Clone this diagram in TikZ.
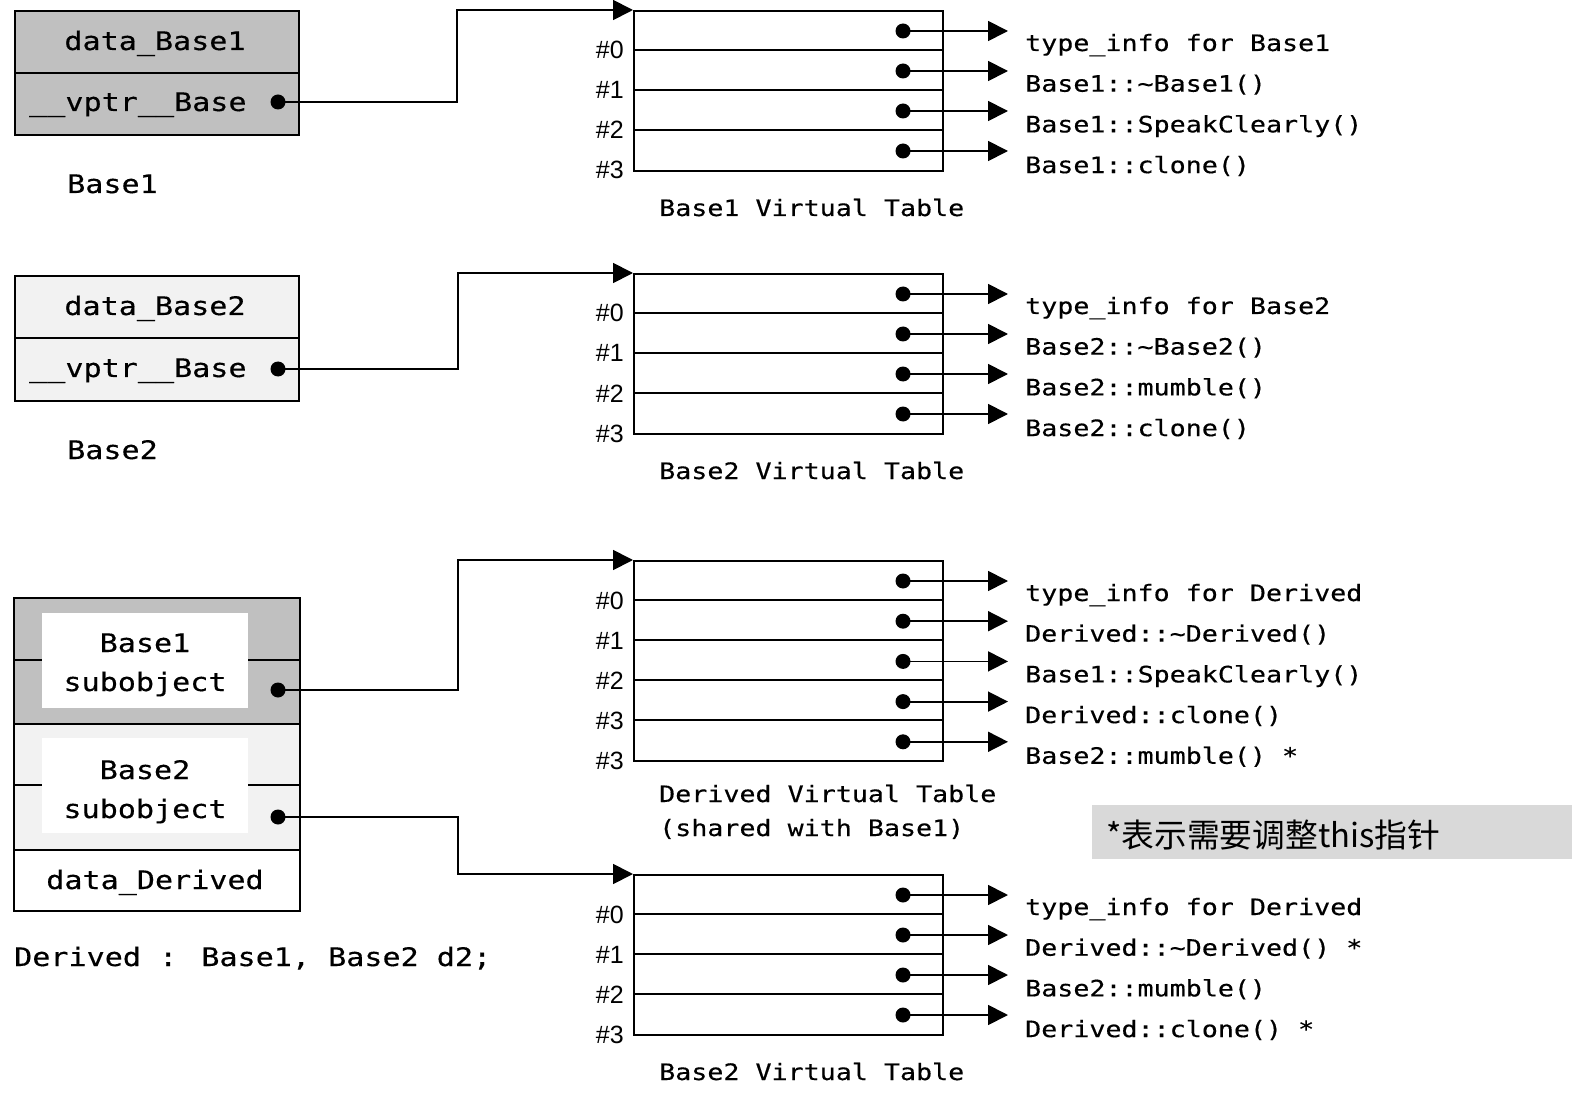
\documentclass[tikz,border=0pt]{standalone}
\usepackage{fontspec}
\setsansfont{Liberation Sans}
\newfontfamily\monof[FakeStretch=1.18,FakeBold=0.4]{DejaVu Sans Mono}
\newfontfamily\cjk{Noto Sans CJK SC}
\usetikzlibrary{arrows.meta}
\newcommand\bigmono{\monof\fontsize{25.5}{40}\selectfont}
\newcommand\smallmono{\monof\fontsize{22.6}{35}\selectfont}
\definecolor{gA}{RGB}{192,192,192}
\definecolor{gB}{RGB}{242,242,242}
\definecolor{gC}{RGB}{217,217,217}
\tikzset{
  cell/.style={draw=black, line width=2pt, anchor=north west, inner sep=0, minimum width=284pt},
  btext/.style={font=\bigmono, inner sep=0, anchor=base},
  btextw/.style={font=\bigmono, inner sep=0, anchor=base west},
  stext/.style={font=\smallmono, inner sep=0, anchor=base west},
  lab/.style={font=\sffamily\fontsize{25}{30}\selectfont, inner sep=0, anchor=base east},
  vt/.style={draw=black, line width=2pt, anchor=north west, inner sep=0, minimum width=309pt},
  rowline/.style={line width=2pt},
  dot/.style={circle, fill=black, inner sep=0, minimum size=15pt},
  conn/.style={line width=1.8pt, -{Triangle[length=20pt,width=20pt]}},
  wbox/.style={fill=white, inner sep=0, anchor=north west, minimum width=206pt, minimum height=95pt}
}
\begin{document}
\begin{tikzpicture}[x=1pt,y=-1pt]
\useasboundingbox (0,0) rectangle (1572,1099);

% ---------- Base1 object ----------
\node[cell, fill=gA, minimum height=62pt] (b1a) at (14,10) {};
\node[cell, fill=gA, minimum height=62pt] (b1b) at (14,72) {};
\node[btext] (t1a) at (155,50) {data\_Base1};
\node[btextw] (t1b) at (29,111) {\_\_vptr\_\_Base};
\node[dot] (d1) at (278,102) {};
\node[btextw] (n1) at (67,193) {Base1};

% ---------- Base2 object ----------
\node[cell, fill=gB, minimum height=62pt] (b2a) at (14,275) {};
\node[cell, fill=gB, minimum height=63pt] (b2b) at (14,337) {};
\node[btext] (t2a) at (155,315) {data\_Base2};
\node[btextw] (t2b) at (29,377) {\_\_vptr\_\_Base};
\node[dot] (d2) at (278,369) {};
\node[btextw] (n2) at (67,459) {Base2};

% ---------- Derived object ----------
\node[cell, draw=none, fill=gA, minimum height=124pt] (b3a) at (14,598) {};
\node[cell, draw=none, fill=gB, minimum height=126pt] (b3b) at (14,722) {};
\node[cell, draw=none, fill=white, minimum height=61pt] (b3c) at (14,848) {};
\draw[rowline] (b3a.west |- 0,660) -- (b3a.east |- 0,660);
\draw[rowline] (b3b.west |- 0,785) -- (b3b.east |- 0,785);
\draw[rowline] (b3a.south west) -- (b3a.south east);
\draw[rowline] (b3b.south west) -- (b3b.south east);
\draw[rowline] (b3a.north west) rectangle (b3c.south east);
\node[wbox] (w1) at (42,613) {};
\node[wbox] (w2) at (42,738) {};
\node[btext] (s1a) at (145,652) {Base1};
\node[btext] (s1b) at (145,691) {subobject};
\node[btext] (s2a) at (145,779) {Base2};
\node[btext] (s2b) at (145,818) {subobject};
\node[btext] (t3c) at (155,889) {data\_Derived};
\node[dot] (d3) at (278,690) {};
\node[dot] (d4) at (278,817) {};
\node[btextw] (n3) at (14,966) {Derived : Base1, Base2 d2;};

% ---------- virtual tables ----------
% vt1
\node[vt, minimum height=160pt] (vt1) at (633,10) {};
\foreach \i in {1,2,3} \draw[rowline] (633,10+40*\i) -- (942,10+40*\i);
\foreach \i/\l in {0/\#0,1/\#1,2/\#2,3/\#3} \node[lab] (vt1l\i) at (624,59+40*\i) {\l};
\foreach \i/\t in {0/type\_info for Base1,1/Base1::\textasciitilde Base1(),2/Base1::SpeakClearly(),3/Base1::clone()}{
  \node[dot] (vt1d\i) at (903,31+40*\i) {};
  \coordinate (vt1e\i) at (1008,31+40*\i);
  \draw[conn] (vt1d\i.center) -- (vt1e\i);
  \node[stext] (vt1t\i) at (1025,51+40.7*\i) {\t};
}
\node[stext] (vt1c) at (659,216) {Base1 Virtual Table};

% vt2
\node[vt, minimum height=160pt] (vt2) at (633,273) {};
\foreach \i in {1,2,3} \draw[rowline] (633,273+40*\i) -- (942,273+40*\i);
\foreach \i/\l in {0/\#0,1/\#1,2/\#2,3/\#3} \node[lab] (vt2l\i) at (624,322+40*\i) {\l};
\foreach \i/\t in {0/type\_info for Base2,1/Base2::\textasciitilde Base2(),2/Base2::mumble(),3/Base2::clone()}{
  \node[dot] (vt2d\i) at (903,294+40*\i) {};
  \coordinate (vt2e\i) at (1008,294+40*\i);
  \draw[conn] (vt2d\i.center) -- (vt2e\i);
  \node[stext] (vt2t\i) at (1025,314+40.7*\i) {\t};
}
\node[stext] (vt2c) at (659,479) {Base2 Virtual Table};

% vt3
\node[vt, minimum height=200pt] (vt3) at (633,560) {};
\foreach \i in {1,2,3,4} \draw[rowline] (633,560+40*\i) -- (942,560+40*\i);
\foreach \i/\l in {0/\#0,1/\#1,2/\#2,3/\#3,4/\#3} \node[lab] (vt3l\i) at (624,609+40*\i) {\l};
\foreach \i/\t in {0/type\_info for Derived,1/Derived::\textasciitilde Derived(),2/Base1::SpeakClearly(),3/Derived::clone(),4/Base2::mumble() *}{
  \node[dot] (vt3d\i) at (903,581+40.2*\i) {};
  \coordinate (vt3e\i) at (1008,581+40.2*\i);
  \draw[conn] (vt3d\i.center) -- (vt3e\i);
  \node[stext] (vt3t\i) at (1025,601+40.7*\i) {\t};
}
\node[stext] (vt3c) at (659,802) {Derived Virtual Table};
\node[stext] (vt3c2) at (659,836) {(shared with Base1)};

% vt4
\node[vt, minimum height=160pt] (vt4) at (633,874) {};
\foreach \i in {1,2,3} \draw[rowline] (633,874+40*\i) -- (942,874+40*\i);
\foreach \i/\l in {0/\#0,1/\#1,2/\#2,3/\#3} \node[lab] (vt4l\i) at (624,923+40*\i) {\l};
\foreach \i/\t in {0/type\_info for Derived,1/Derived::\textasciitilde Derived() *,2/Base2::mumble(),3/Derived::clone() *}{
  \node[dot] (vt4d\i) at (903,895+40*\i) {};
  \coordinate (vt4e\i) at (1008,895+40*\i);
  \draw[conn] (vt4d\i.center) -- (vt4e\i);
  \node[stext] (vt4t\i) at (1025,915+40.7*\i) {\t};
}
\node[stext] (vt4c) at (659,1080) {Base2 Virtual Table};

% ---------- pointers ----------
\coordinate (j1) at (457,0);
\coordinate (j2) at (458,0);
\draw[conn] (d1.center) -| (j1 |- vt1.north west) -- (vt1.north west);
\draw[conn] (d2.center) -| (j2 |- vt2.north west) -- (vt2.north west);
\draw[conn] (d3.center) -| (j2 |- vt3.north west) -- (vt3.north west);
\draw[conn] (d4.center) -| (j2 |- vt4.north west) -- (vt4.north west);

% ---------- note ----------
\node[fill=gC, anchor=north west, inner sep=0, minimum width=480pt, minimum height=54pt] (note) at (1092,805) {};
\node[font=\cjk\fontsize{32.8}{38}\selectfont, anchor=west, inner sep=0] (notet) at (1106,835) {*表示需要调整this指针};
\end{tikzpicture}
\end{document}
